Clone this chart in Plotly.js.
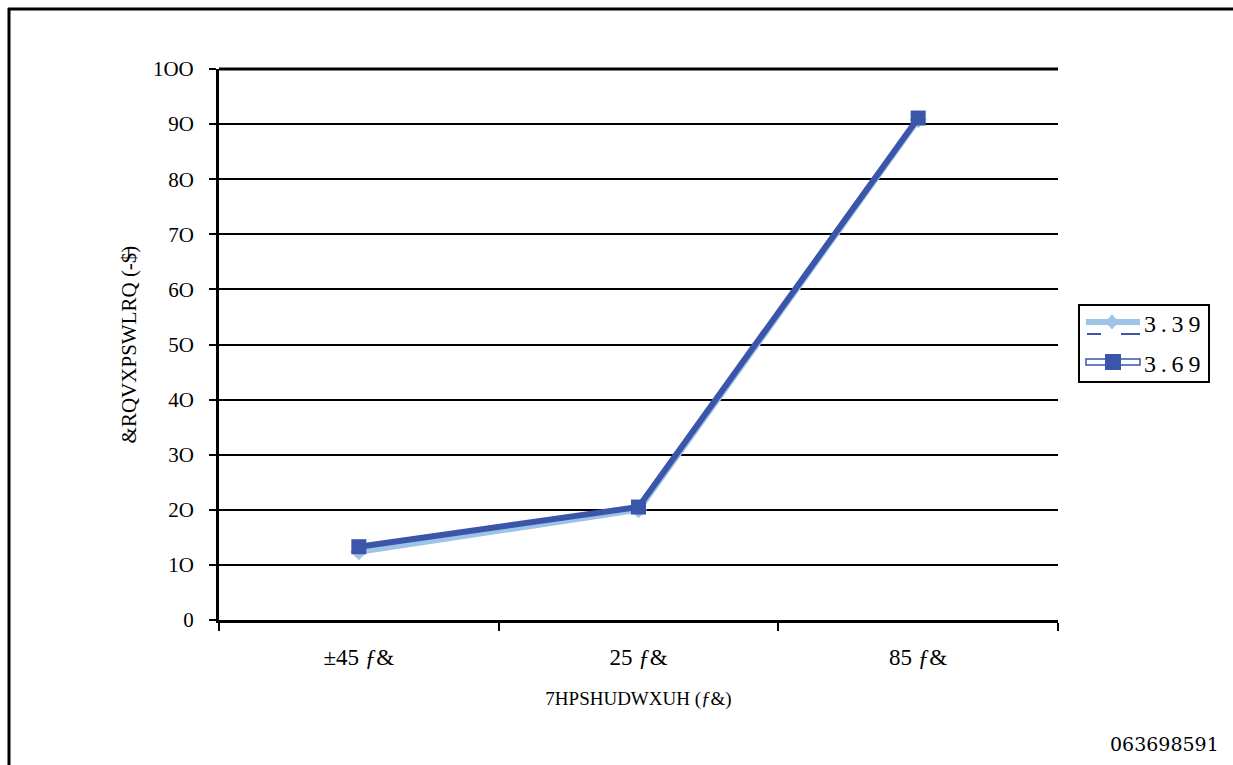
<!DOCTYPE html>
<html>
<head>
<meta charset="utf-8">
<script src="https://cdn.plot.ly/plotly-3.0.1.min.js"></script>
<style>html,body{margin:0;padding:0;background:#fff;overflow:hidden;}#chart{width:1233px;height:765px;}</style>
</head>
<body>
<div id="chart"></div>
<script>
const categories = ["±45 <i>ƒ</i>&", "25 <i>ƒ</i>&", "85 <i>ƒ</i>&"];
const series339 = [12.4, 20.0, 90.8];
const series369 = [13.3, 20.5, 91.1];
const seriesNames = ["3\u2009.\u20093\u20099", "3\u2009.\u20096\u20099"];
const yTickVals = [0, 10, 20, 30, 40, 50, 60, 70, 80, 90, 100];
const yTickText = ["0", "1O", "2O", "3O", "4O", "5O", "6O", "7O", "8O", "9O", "1OO"];

const W = 1233, H = 765;
const L = 219, R = 1058, T = 69, B = 620;
const px = x => (x - L) / (R - L);
const py = y => (B - y) / (B - T);
const serif = "Liberation Serif, DejaVu Serif, serif";
const wide = "DejaVu Serif, serif";
const dark = "#3A55A9", light = "#9DC3E6";

const traces = [
  {x: categories, y: series339, name: seriesNames[0], type: "scatter", mode: "lines+markers",
   line: {color: light, width: 6}, marker: {symbol: "diamond", size: 13, color: light},
   showlegend: false, cliponaxis: false},
  {x: categories, y: series369, name: seriesNames[1], type: "scatter", mode: "lines+markers",
   line: {color: dark, width: 6}, marker: {symbol: "square", size: 15, color: dark},
   showlegend: false, cliponaxis: false}
];

const shapes = [
  // outer frame (left and top)
  {type: "line", xref: "paper", yref: "paper", x0: px(9), x1: px(9), y0: py(8), y1: py(765), line: {color: "#000", width: 3}},
  {type: "rect", xref: "paper", yref: "paper", x0: px(8), x1: px(1233), y0: py(7.5), y1: py(10.5), line: {width: 0}, fillcolor: "#000"},
  // top plot border
  {type: "line", xref: "paper", yref: "paper", x0: 0, x1: 1, y0: 1, y1: 1, line: {color: "#000", width: 3}},
  // legend box
  {type: "rect", xref: "paper", yref: "paper", x0: px(1079), x1: px(1209), y0: py(305), y1: py(382), line: {color: "#000", width: 2}, fillcolor: "#fff"},
  // legend entry 1
  {type: "line", xref: "paper", yref: "paper", x0: px(1086), x1: px(1140), y0: py(322), y1: py(322), line: {color: light, width: 6}},
  {type: "path", xref: "paper", yref: "paper",
   path: `M ${px(1112)} ${py(315)} L ${px(1118)} ${py(322)} L ${px(1112)} ${py(329)} L ${px(1106)} ${py(322)} Z`,
   fillcolor: light, line: {color: light, width: 1}},
  {type: "line", xref: "paper", yref: "paper", x0: px(1087), x1: px(1101), y0: py(334), y1: py(334), line: {color: dark, width: 2}},
  {type: "line", xref: "paper", yref: "paper", x0: px(1121), x1: px(1140), y0: py(334), y1: py(334), line: {color: dark, width: 2}},
  // legend entry 2
  {type: "rect", xref: "paper", yref: "paper", x0: px(1086), x1: px(1140), y0: py(359), y1: py(365), line: {color: dark, width: 1.5}, fillcolor: "#fff"},
  {type: "rect", xref: "paper", yref: "paper", x0: px(1105), x1: px(1121), y0: py(354), y1: py(370), line: {color: dark, width: 0}, fillcolor: dark}
];

const annotations = [
  {text: seriesNames[0], xref: "paper", yref: "paper", x: px(1142), y: py(324), xanchor: "left", yanchor: "middle", showarrow: false,
   font: {family: serif, size: 24, color: "#000"}},
  {text: seriesNames[1], xref: "paper", yref: "paper", x: px(1142), y: py(364), xanchor: "left", yanchor: "middle", showarrow: false,
   font: {family: serif, size: 24, color: "#000"}},
  {text: "063698591", xref: "paper", yref: "paper", x: px(1221), y: py(744), xanchor: "right", yanchor: "middle", showarrow: false,
   font: {family: wide, size: 19, color: "#000"}}
];

const layout = {
  width: W, height: H,
  margin: {l: L, r: W - R, t: T, b: H - B, pad: 0},
  paper_bgcolor: "#fff", plot_bgcolor: "#fff",
  showlegend: false,
  xaxis: {
    type: "category", tickson: "boundaries", ticks: "outside", ticklen: 8, tickwidth: 2, tickcolor: "#000",
    showline: true, linecolor: "#000", linewidth: 3, showgrid: false, zeroline: false,
    ticklabelstandoff: 14,
    tickfont: {family: serif, size: 23, color: "#000"},
    title: {text: "7HPSHUDWXUH (<i>ƒ</i>&)", font: {family: serif, size: 19, color: "#000"}, standoff: 24},
    range: [-0.5, 2.5], fixedrange: true
  },
  yaxis: {
    range: [0, 100], tickvals: yTickVals, ticktext: yTickText,
    ticks: "outside", ticklen: 7, tickwidth: 2, tickcolor: "#000",
    showline: true, linecolor: "#000", linewidth: 3,
    showgrid: true, gridcolor: "#000", gridwidth: 2, zeroline: false,
    ticklabelstandoff: 11,
    tickfont: {family: serif, size: 21, color: "#000"},
    title: {text: "&RQVXPSWLRQ (‑$̶)", font: {family: serif, size: 21, color: "#000"}, standoff: 11},
    fixedrange: true
  },
  shapes: shapes,
  annotations: annotations
};

Plotly.newPlot("chart", traces, layout, {staticPlot: true, displayModeBar: false});
</script>
</body>
</html>
